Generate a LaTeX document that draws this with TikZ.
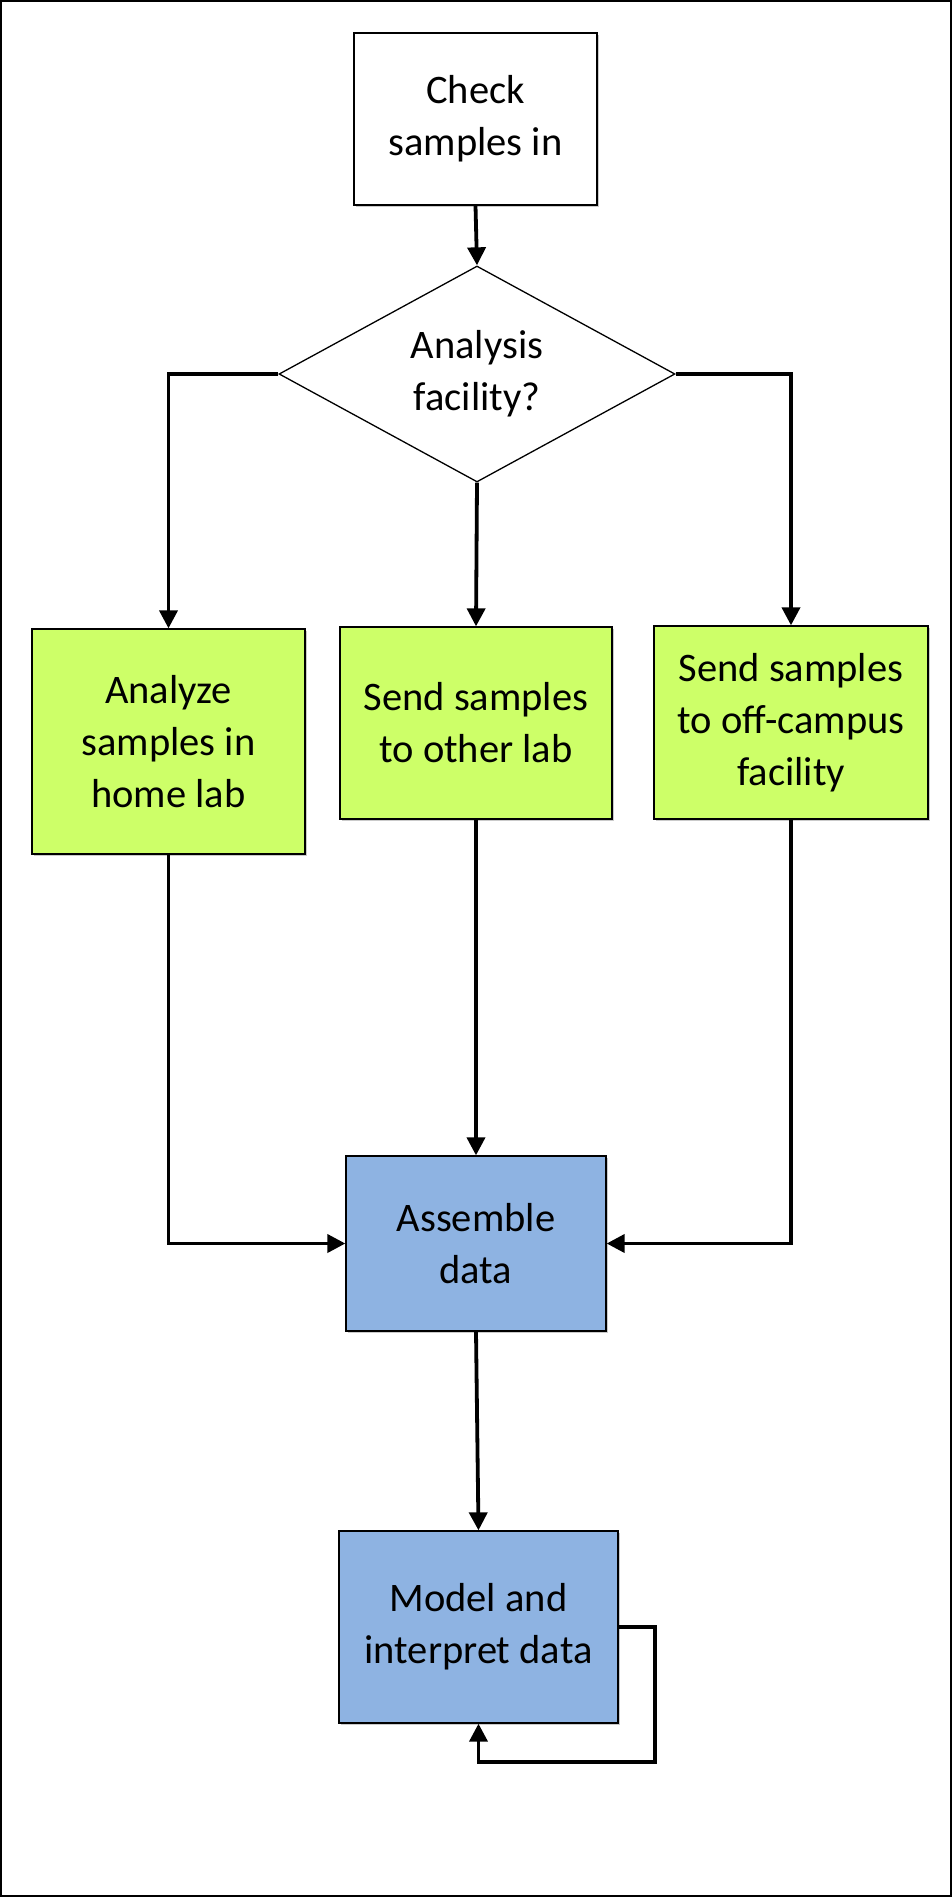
\documentclass[tikz,border=0pt]{standalone}
\usepackage{fontspec}
\setmainfont{Carlito}
\usetikzlibrary{arrows.meta,shapes.geometric,shadows}
\definecolor{boxgreen}{RGB}{205,255,104}
\definecolor{boxblue}{RGB}{142,179,226}
\tikzset{
  base/.style={draw=black, line width=1.3pt, align=center, inner sep=0pt,
    font=\fontsize{40.5}{52}\selectfont,
    drop shadow={shadow xshift=2pt, shadow yshift=-2pt, opacity=0.35, fill=black!60}},
  plainbox/.style={base, fill=white, rectangle},
  greenbox/.style={base, fill=boxgreen, rectangle},
  bluebox/.style={base, fill=boxblue, rectangle},
  decbox/.style={draw=black, line width=1.3pt, fill=white, align=center, inner sep=0pt,
    font=\fontsize{40.5}{52}\selectfont, diamond, aspect=1.833},
  arr/.style={line width=3.8pt, -{Triangle[length=18pt,width=18pt]}}
}
\begin{document}
\begin{tikzpicture}[x=1pt,y=-1pt]
\useasboundingbox (0,0) rectangle (952,1897);
\draw[line width=1.3pt] (1,1) rectangle (951,1896);

\node[plainbox, minimum width=243pt, minimum height=172pt] (check) at (475.5,119) {Check\\samples in};
\node[decbox, minimum width=396pt, minimum height=216pt] (dec) at (477,374) {Analysis\\facility?};
\node[greenbox, minimum width=273pt, minimum height=225pt] (home) at (168.5,741.5) {Analyze\\samples in\\home lab};
\node[greenbox, minimum width=272pt, minimum height=192pt] (other) at (476,723) {Send samples\\to other lab};
\node[greenbox, minimum width=274pt, minimum height=193pt] (off) at (791,722.5) {Send samples\\to off-campus\\facility};
\node[bluebox, minimum width=260pt, minimum height=175pt] (assemble) at (476,1243.5) {Assemble\\data};
\node[bluebox, minimum width=279pt, minimum height=192pt] (model) at (478.5,1627) {Model and\\interpret data};

\draw[arr] (check.south) -- (dec.north);
\draw[arr] (dec.west) -| (home.north);
\draw[arr] (dec.south) -- (other.north);
\draw[arr] (dec.east) -| (off.north);
\draw[arr] (home.south) |- (assemble.west);
\draw[arr] (other.south) -- (assemble.north);
\draw[arr] (off.south) |- (assemble.east);
\draw[arr] (assemble.south) -- (model.north);
\draw[arr] (model.east) -- ++(36,0) |- ([yshift=-38pt]model.south) -- (model.south);
\end{tikzpicture}
\end{document}
